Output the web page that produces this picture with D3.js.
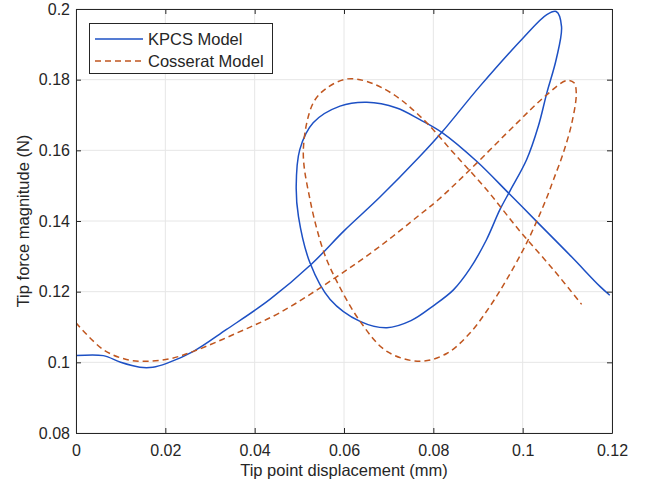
<!DOCTYPE html>
<html><head><meta charset="utf-8">
<script src="https://cdn.jsdelivr.net/npm/d3@7"></script>
<style>body{margin:0;background:#fff}svg{display:block}text{font-family:"Liberation Sans",Arial,Helvetica,sans-serif;fill:#262626}</style>
</head><body><div id="chart"></div>
<script>
const seriesNames = ["KPCS Model", "Cosserat Model"];
const seriesColors = ["#1d50c4", "#c0561f"];
const xTicks = [0, 0.02, 0.04, 0.06, 0.08, 0.1, 0.12];
const yTicks = [0.08, 0.1, 0.12, 0.14, 0.16, 0.18, 0.2];
const xLabel = "Tip point displacement (mm)";
const yLabel = "Tip force magnitude (N)";

const kpcsX = [0, 0.0061, 0.0100, 0.0143, 0.0172, 0.0203, 0.0263, 0.0337, 0.0434, 0.0528, 0.0600, 0.0680, 0.0770, 0.0819, 0.0904, 0.1001, 0.1054, 0.1075, 0.1087, 0.1075, 0.1054, 0.1035, 0.1009, 0.0972, 0.0949, 0.0919, 0.0882, 0.0845, 0.0800, 0.0750, 0.0696, 0.0636, 0.0569, 0.0524, 0.0498, 0.0493, 0.0501, 0.0531, 0.0591, 0.0651, 0.0718, 0.0770, 0.0819, 0.0897, 0.0970, 0.1031, 0.1110, 0.1173, 0.1195];
const kpcsY = [0.1019, 0.1019, 0.1000, 0.0986, 0.0986, 0.0997, 0.1031, 0.1093, 0.1178, 0.1279, 0.1372, 0.1467, 0.1583, 0.1651, 0.1781, 0.1918, 0.1984, 0.1993, 0.1950, 0.1857, 0.1762, 0.1668, 0.1574, 0.1486, 0.1432, 0.1347, 0.1265, 0.1205, 0.1160, 0.1118, 0.1098, 0.1116, 0.1178, 0.1281, 0.1413, 0.1498, 0.1602, 0.1678, 0.1725, 0.1736, 0.1720, 0.1687, 0.1651, 0.1569, 0.1477, 0.1399, 0.1298, 0.1215, 0.1190];

const cossX = [0, 0.0061, 0.0113, 0.0158, 0.0210, 0.0263, 0.0360, 0.0457, 0.0580, 0.0680, 0.0770, 0.0811, 0.0882, 0.0987, 0.1050, 0.1099, 0.1115, 0.1120, 0.1110, 0.1091, 0.1069, 0.1052, 0.1009, 0.0964, 0.0927, 0.0882, 0.0830, 0.0770, 0.0696, 0.0636, 0.0580, 0.0554, 0.0524, 0.0509, 0.0531, 0.0561, 0.0606, 0.0651, 0.0711, 0.0778, 0.0845, 0.0919, 0.0994, 0.1069, 0.1132];
const cossY = [0.1112, 0.1036, 0.1008, 0.1003, 0.1010, 0.1031, 0.1083, 0.1141, 0.1239, 0.1328, 0.1418, 0.1460, 0.1545, 0.1677, 0.1753, 0.1798, 0.1791, 0.1762, 0.1677, 0.1593, 0.1517, 0.1460, 0.1338, 0.1234, 0.1159, 0.1083, 0.1025, 0.1003, 0.1031, 0.1116, 0.1239, 0.1315, 0.1460, 0.1602, 0.1734, 0.1776, 0.1802, 0.1795, 0.1758, 0.1687, 0.1593, 0.1489, 0.1371, 0.1262, 0.1164];

const W = 655, H = 489;
const L = 76, R = 612, T = 9, B = 433;
const svg = d3.select("#chart").append("svg").attr("width", W).attr("height", H);
const x = d3.scaleLinear().domain([0, 0.12]).range([L, R]);
const y = d3.scaleLinear().domain([0.08, 0.2]).range([B, T]);
const fmt = d => d === 0 ? "0" : String(+d.toFixed(2));

// grid
const g = svg.append("g");
g.selectAll(".gx").data(xTicks).join("line").attr("x1", d => x(d)).attr("x2", d => x(d)).attr("y1", T).attr("y2", B).attr("stroke", "#e6e6e6").attr("stroke-width", 1);
g.selectAll(".gy").data(yTicks).join("line").attr("y1", d => y(d)).attr("y2", d => y(d)).attr("x1", L).attr("x2", R).attr("stroke", "#e6e6e6").attr("stroke-width", 1);

// curves
svg.append("clipPath").attr("id", "clip").append("rect").attr("x", L).attr("y", T).attr("width", R - L).attr("height", B - T);
const line = d3.line().x(d => x(d[0])).y(d => y(d[1])).curve(d3.curveCatmullRom.alpha(0.5));
const datasets = [d3.zip(kpcsX, kpcsY), d3.zip(cossX, cossY)];
datasets.forEach((data, i) => {
  svg.append("path").datum(data).attr("d", line).attr("fill", "none")
    .attr("stroke", seriesColors[i]).attr("stroke-width", 1.5)
    .attr("stroke-dasharray", i === 1 ? "6,4" : null)
    .attr("clip-path", "url(#clip)");
});

// axes
const axB = d3.axisBottom(x).tickValues(xTicks).tickFormat(fmt).tickSizeInner(-5).tickSizeOuter(0).tickPadding(12);
const axL = d3.axisLeft(y).tickValues(yTicks).tickFormat(fmt).tickSizeInner(-5).tickSizeOuter(0).tickPadding(6);
const axT = d3.axisTop(x).tickValues(xTicks).tickFormat("").tickSizeInner(-5).tickSizeOuter(0);
const axR = d3.axisRight(y).tickValues(yTicks).tickFormat("").tickSizeInner(-5).tickSizeOuter(0);
function style(sel) {
  sel.select(".domain").attr("stroke", "#262626").attr("stroke-width", 1);
  sel.selectAll(".tick line").attr("stroke", "#262626");
  sel.selectAll("text").attr("font-size", 16).attr("fill", "#262626").attr("font-family", '"Liberation Sans",Arial,sans-serif');
}
svg.append("g").attr("transform", `translate(0,${B})`).call(axB).call(style);
svg.append("g").attr("transform", `translate(${L},0)`).call(axL).call(style);
svg.append("g").attr("transform", `translate(0,${T})`).call(axT).call(style);
svg.append("g").attr("transform", `translate(${R},0)`).call(axR).call(style);

// labels
svg.append("text").attr("x", (L + R) / 2).attr("y", 476).attr("text-anchor", "middle").attr("font-size", 16.5).text(xLabel);
svg.append("text").attr("transform", `translate(29,${(T + B) / 2}) rotate(-90)`).attr("text-anchor", "middle").attr("font-size", 16.5).text(yLabel);

// legend
const lg = svg.append("g");
lg.append("rect").attr("x", 89.5).attr("y", 23.5).attr("width", 183).attr("height", 50).attr("fill", "#fff").attr("stroke", "#262626").attr("stroke-width", 1);
seriesNames.forEach((n, i) => {
  const yy = 39 + i * 22;
  lg.append("line").attr("x1", 95).attr("x2", 143).attr("y1", yy).attr("y2", yy)
    .attr("stroke", seriesColors[i]).attr("stroke-width", 1.5).attr("stroke-dasharray", i === 1 ? "6,4" : null);
  lg.append("text").attr("x", 148).attr("y", yy).attr("dy", "0.35em").attr("font-size", 16.5).text(n);
});
</script></body></html>
